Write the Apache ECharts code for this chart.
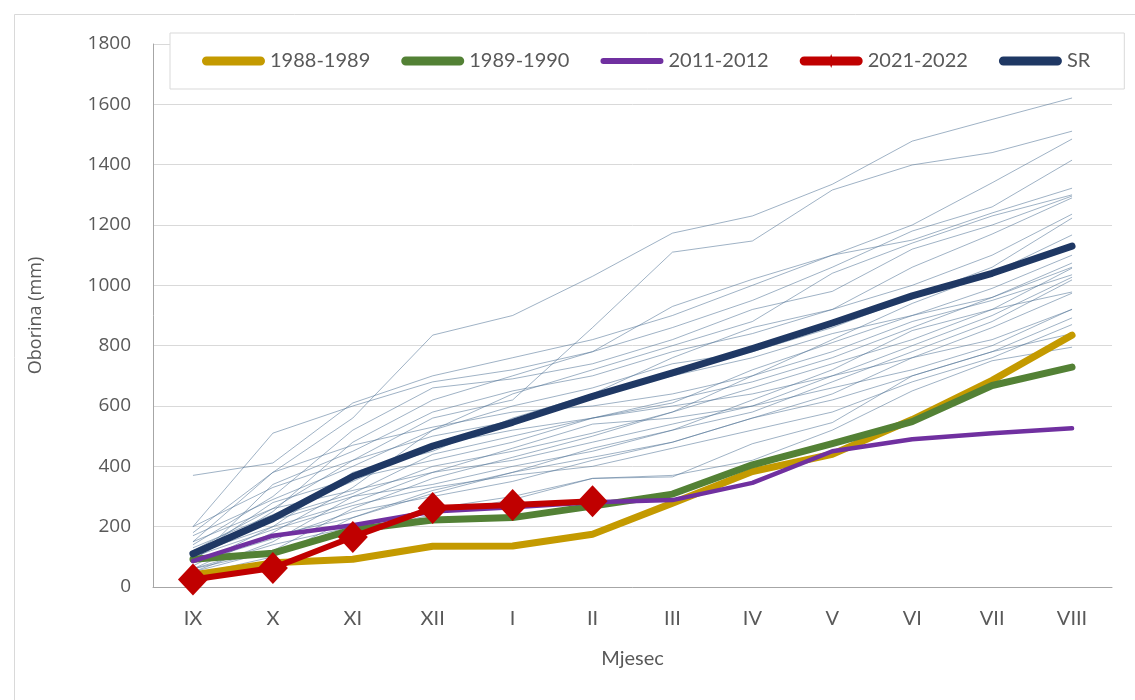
<!DOCTYPE html>
<html>
<head>
<meta charset="utf-8">
<script src="https://cdn.jsdelivr.net/npm/echarts@6/dist/echarts.min.js"></script>
<style>
  html, body { margin: 0; padding: 0; background: #fff; }
  #chart { width: 1135px; height: 700px; }
</style>
</head>
<body>
<div id="chart"></div>
<script>
// Month categories of the hydrological year (September to August)
const months = ['IX', 'X', 'XI', 'XII', 'I', 'II', 'III', 'IV', 'V', 'VI', 'VII', 'VIII'];

// Cumulative precipitation (mm) of the highlighted years and the mean
const y1988_1989 = [40, 80, 92, 135, 136, 175, 278, 383, 440, 555, 685, 835];
const y1989_1990 = [92, 112, 190, 222, 230, 268, 308, 405, 475, 548, 668, 729];
const y2011_2012 = [86, 170, 205, 250, 264, 281, 288, 345, 450, 490, 510, 526];
const y2021_2022 = [25, 63, 166, 262, 272, 284, null, null, null, null, null, null];
const meanSR     = [110, 227, 366, 467, 546, 632, 710, 790, 875, 965, 1040, 1130];

// Cumulative precipitation of the remaining years (thin background lines)
const otherYears = [
  [150, 380, 560, 835, 900, 1030, 1173, 1230, 1335, 1478, 1550, 1621],
  [120, 260, 420, 560, 620, 860, 1110, 1147, 1316, 1399, 1440, 1511],
  [370, 411, 610, 700, 760, 820, 900, 1000, 1100, 1200, 1340, 1485],
  [200, 510, 600, 680, 720, 780, 860, 950, 1060, 1180, 1260, 1415],
  [90, 250, 480, 620, 700, 780, 930, 1020, 1100, 1150, 1240, 1322],
  [60, 180, 330, 520, 640, 720, 800, 880, 1040, 1140, 1230, 1300],
  [140, 300, 520, 660, 690, 740, 820, 920, 980, 1120, 1200, 1296],
  [110, 200, 380, 450, 560, 640, 760, 860, 920, 1060, 1170, 1290],
  [80, 340, 450, 580, 650, 700, 780, 840, 920, 1000, 1100, 1236],
  [170, 290, 400, 520, 600, 660, 740, 780, 860, 960, 1060, 1223],
  [60, 120, 260, 360, 430, 500, 580, 700, 820, 940, 1040, 1167],
  [130, 240, 350, 470, 520, 560, 610, 720, 810, 900, 990, 1100],
  [100, 280, 360, 420, 480, 560, 620, 680, 760, 860, 960, 1074],
  [50, 150, 300, 400, 450, 510, 580, 660, 740, 820, 920, 1057],
  [180, 380, 470, 530, 580, 600, 640, 700, 780, 880, 950, 1035],
  [70, 200, 280, 380, 460, 540, 560, 600, 700, 800, 900, 1027],
  [40, 100, 230, 320, 380, 460, 520, 580, 680, 780, 880, 1018],
  [120, 220, 300, 340, 400, 450, 520, 620, 720, 850, 920, 978],
  [90, 170, 230, 310, 380, 430, 480, 560, 640, 760, 860, 974],
  [150, 260, 320, 380, 420, 480, 540, 600, 660, 720, 800, 921],
  [60, 140, 200, 260, 300, 360, 365, 475, 545, 700, 780, 892],
  [100, 190, 270, 330, 370, 400, 460, 520, 580, 680, 760, 870],
  [50, 120, 180, 240, 290, 360, 370, 420, 520, 650, 750, 795],
  [110, 230, 310, 440, 500, 560, 600, 640, 700, 760, 820, 920],
  [200, 330, 420, 500, 550, 640, 700, 760, 840, 900, 960, 1060],
  [80, 160, 250, 300, 350, 420, 480, 560, 620, 700, 780, 840]
];

const yTicks = { min: 0, max: 1800, interval: 200 };

const chart = echarts.init(document.getElementById('chart'), null, { renderer: 'canvas' });

const series = [];
otherYears.forEach(function (vals, i) {
  series.push({
    name: 'god' + i,
    type: 'line',
    data: vals,
    symbol: 'none',
    silent: true,
    z: 1,
    lineStyle: { color: 'rgba(80,115,150,0.55)', width: 1 }
  });
});

function mainLine(name, data, color, width, z) {
  return {
    name: name, type: 'line', data: data, symbol: 'none', z: z,
    lineStyle: { color: color, width: width, cap: 'round', join: 'round' },
    itemStyle: { color: color }
  };
}

series.push(mainLine('1988-1989', y1988_1989, '#c49a00', 7, 3));
series.push(mainLine('1989-1990', y1989_1990, '#538135', 7, 4));
series.push(mainLine('2011-2012', y2011_2012, '#7030a0', 4.5, 5));
series.push(mainLine('SR', meanSR, '#1f3864', 7, 6));
series.push({
  name: '2021-2022', type: 'line', data: y2021_2022, z: 7,
  symbol: 'diamond', symbolSize: [30, 32], showSymbol: true,
  lineStyle: { color: '#c00000', width: 6, join: 'round' },
  itemStyle: { color: '#c00000' }
});

// Legend icons share one 63x14 box: a rounded bar, plus a small diamond for 2021-2022
const boxPts = 'M0,0L0.01,0L0,0.01Z M63,14L62.99,14L63,13.99Z ';
const barPath = 'M4.5,2.5L58.5,2.5A4.5,4.5,0,0,1,58.5,11.5L4.5,11.5A4.5,4.5,0,0,1,4.5,2.5Z';
const thinBar = 'M3,4L60,4A3,3,0,0,1,60,10L3,10A3,3,0,0,1,3,4Z';
const iconBar = 'path://' + boxPts + barPath;
const iconThin = 'path://' + boxPts + thinBar;
const iconRed = 'path://' + boxPts + barPath + ' M31.5,0L34,7L31.5,14L29,7Z';

chart.setOption({
  animation: false,
  backgroundColor: '#ffffff',
  graphic: [{
    type: 'rect', left: 12, top: 12, z: -10,
    shape: { width: 1121, height: 686 },
    style: { fill: 'none', stroke: '#d9d9d9', lineWidth: 1 }
  }],
  grid: { left: 153, right: 23, top: 44, height: 543, containLabel: false },
  legend: {
    left: 170, top: 33,
    padding: [18, 34, 18, 32],
    backgroundColor: '#ffffff',
    borderColor: '#d9d9d9', borderWidth: 1,
    itemWidth: 63, itemHeight: 14, itemGap: 31,
    z: 20,
    textStyle: { fontFamily: 'Lato', fontSize: 20, color: '#595959' },
    data: [
      { name: '1988-1989', icon: iconBar, itemStyle: { color: '#c49a00' } },
      { name: '1989-1990', icon: iconBar, itemStyle: { color: '#538135' } },
      { name: '2011-2012', icon: iconThin, itemStyle: { color: '#7030a0' } },
      { name: '2021-2022', icon: iconRed, itemStyle: { color: '#c00000' } },
      { name: 'SR', icon: iconBar, itemStyle: { color: '#1f3864' } }
    ]
  },
  xAxis: {
    type: 'category',
    data: months,
    boundaryGap: true,
    name: 'Mjesec',
    nameLocation: 'middle',
    nameGap: 62,
    nameTextStyle: { fontFamily: 'Lato', fontSize: 20, color: '#595959' },
    axisLine: { lineStyle: { color: '#a6a6a6', width: 1 } },
    axisTick: { show: false },
    axisLabel: { fontFamily: 'Lato', fontSize: 20, color: '#595959', margin: 22 },
    splitLine: { show: false }
  },
  yAxis: {
    type: 'value',
    min: yTicks.min, max: yTicks.max, interval: yTicks.interval,
    name: 'Oborina (mm)',
    nameLocation: 'middle',
    nameGap: 108,
    nameRotate: 90,
    nameTextStyle: { fontFamily: 'Open Sans', fontSize: 18, color: '#595959' },
    axisLine: { show: true, lineStyle: { color: '#a6a6a6', width: 1 } },
    axisTick: { show: false },
    axisLabel: {
      fontFamily: 'Open Sans', fontSize: 19, color: '#595959', margin: 22,
      formatter: function (v) { return String(v); }
    },
    splitLine: { lineStyle: { color: '#d9d9d9', width: 1 } }
  },
  series: series
});
</script>
</body>
</html>
